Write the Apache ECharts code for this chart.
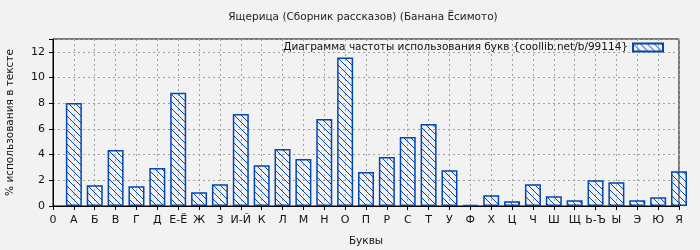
<!DOCTYPE html>
<html>
<head>
<meta charset="utf-8">
<script src="https://cdn.jsdelivr.net/npm/echarts@6/dist/echarts.min.js"></script>
<style>
html,body{margin:0;padding:0;background:#f2f2f2;}
#chart{width:700px;height:250px;}
</style>
</head>
<body>
<div id="chart"></div>
<script>
const categories = ["0","А","Б","В","Г","Д","Е-Ё","Ж","З","И-Й","К","Л","М","Н","О","П","Р","С","Т","У","Ф","Х","Ц","Ч","Ш","Щ","Ь-Ъ","Ы","Э","Ю","Я"];
const letterValues = [8.02,1.62,4.36,1.54,2.95,8.82,1.07,1.70,7.17,3.18,4.44,3.65,6.78,11.56,2.64,3.81,5.38,6.39,2.79,0.08,0.83,0.37,1.70,0.76,0.45,2.01,1.85,0.45,0.68,2.71];
const yTicks = [0,2,4,6,8,10,12];
const titleText = "Ящерица (Сборник рассказов) (Банана Ёсимото)";
const seriesName = "Диаграмма частоты использования букв {coollib.net/b/99114}";
const xName = "Буквы";
const yName = "% использования в тексте";

const BLUE = "#0046b4";
function hatch(){
  const n = 7;
  const c = document.createElement("canvas");
  c.width = n; c.height = n;
  const g = c.getContext("2d");
  g.fillStyle = BLUE;
  for (let i = 0; i < n; i++) g.fillRect(i, i, 1, 1);
  return c;
}
const pattern = {image: hatch(), repeat: "repeat"};

const data = letterValues.map((v, i) => [i + 1, v]);
const font = "DejaVu Sans";

const chart = echarts.init(document.getElementById("chart"), null, {renderer: "canvas"});
chart.setOption({
  backgroundColor: "#f2f2f2",
  animation: false,
  title: {
    text: titleText, left: 363, top: 12, textAlign: "center", padding: 0,
    textStyle: {fontFamily: font, fontSize: 10.5, fontWeight: "normal", color: "#222"}
  },
  legend: {
    right: 36, top: 42, align: "right", itemWidth: 30, itemHeight: 8, itemGap: 8,
    padding: 0, icon: "rect",
    textStyle: {fontFamily: font, fontSize: 10.5, color: "#111"},
    data: [seriesName]
  },
  grid: {left: 53, right: 21, top: 39, bottom: 44, show: true, borderColor: "#000", borderWidth: 1,
    containLabel: false, outerBoundsMode: "none"},
  xAxis: {
    type: "value", min: 0, max: categories.length - 1, interval: 1,
    name: xName, nameLocation: "middle", nameGap: 30,
    nameTextStyle: {fontFamily: font, fontSize: 10.5, color: "#111"},
    axisLine: {show: true, onZero: false, lineStyle: {color: "#000"}},
    axisTick: {show: true, length: 4, lineStyle: {color: "#000"}},
    axisLabel: {fontFamily: font, fontSize: 11, color: "#111", margin: 9,
      formatter: v => categories[Math.round(v)] || ""},
    splitLine: {show: true, lineStyle: {color: "#a0a0a0", type: [2, 3]}}
  },
  yAxis: {
    type: "value", min: 0, max: 13, interval: 2,
    name: yName, nameLocation: "middle", nameGap: 37,
    nameTextStyle: {fontFamily: font, fontSize: 10.5, color: "#111"},
    axisLine: {show: true, lineStyle: {color: "#000"}},
    axisTick: {show: true, length: 4, lineStyle: {color: "#000"}},
    axisLabel: {fontFamily: font, fontSize: 11, color: "#111", margin: 8,
      formatter: v => (yTicks.indexOf(v) >= 0 ? String(v) : "")},
    splitLine: {show: true, lineStyle: {color: "#a0a0a0", type: [2, 3]}}
  },
  series: [{
    type: "bar", name: seriesName, data: data, barWidth: 16, clip: true,
    itemStyle: {color: pattern, borderColor: BLUE, borderWidth: 1.5}
  }]
});
</script>
</body>
</html>
